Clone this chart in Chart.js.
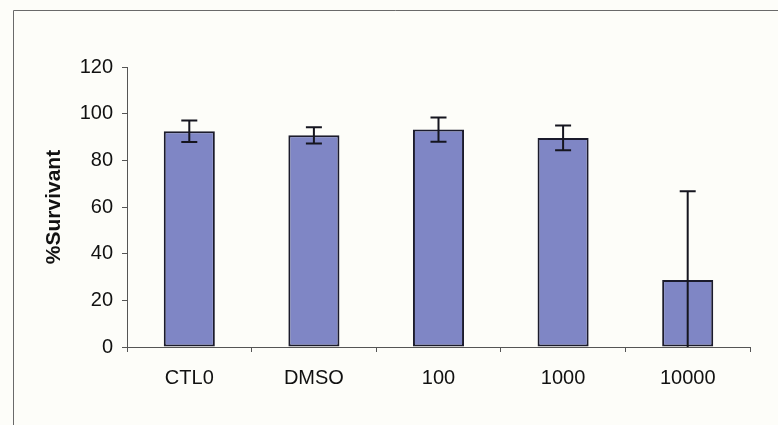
<!DOCTYPE html>
<html>
<head>
<meta charset="utf-8">
<script src="https://cdn.jsdelivr.net/npm/chart.js@4/dist/chart.umd.min.js"></script>
<style>
  html, body { margin: 0; padding: 0; background: #fdfdf9; }
  #wrap { width: 778px; height: 425px; position: relative; }
</style>
</head>
<body>
<div id="wrap"><canvas id="myChart"></canvas></div>
<script>
// data
const categories = ['CTL0', 'DMSO', '100', '1000', '10000'];
const survival = [92.5, 90.7, 93.2, 89.6, 28.7];
const survivalErr = [4.6, 3.5, 5.2, 5.3, 38];
const yTicks = [0, 20, 40, 60, 80, 100, 120];

const FONT = '"Liberation Sans", Arial, sans-serif';

// outer frame like the scanned figure
const framePlugin = {
    id: 'frame',
    beforeDraw: function(chart){
        const ctx = chart.ctx;
        ctx.save();
        ctx.strokeStyle = '#6a6a6a';
        ctx.lineWidth = 1;
        ctx.beginPath();
        ctx.moveTo(13.5, chart.height);
        ctx.lineTo(13.5, 10.5);
        ctx.lineTo(chart.width, 10.5);
        ctx.stroke();
        ctx.restore();
    }
};

// error bars, drawn through the y scale
const errorBarPlugin = {
    id: 'errorBars',
    afterDatasetsDraw: function(chart){
        const ctx = chart.ctx;
        const yScale = chart.scales.y;
        const meta = chart.getDatasetMeta(0);
        ctx.save();
        ctx.strokeStyle = '#15151f';
        ctx.lineWidth = 2;
        meta.data.forEach(function(bar, i){
            const x = bar.x;
            const hi = survival[i] + survivalErr[i];
            const lo = survival[i] - survivalErr[i];
            const yHi = yScale.getPixelForValue(hi);
            const yLo = yScale.getPixelForValue(Math.max(lo, yScale.min));
            ctx.beginPath();
            ctx.moveTo(x, yHi);
            ctx.lineTo(x, yLo);
            ctx.moveTo(x - 8, yHi);
            ctx.lineTo(x + 8, yHi);
            if(lo >= yScale.min){
                ctx.moveTo(x - 8, yLo);
                ctx.lineTo(x + 8, yLo);
            }
            ctx.stroke();
        });
        ctx.restore();
    }
};

const ctx = document.getElementById('myChart');
new Chart(ctx, {
    type: 'bar',
    data: {
        labels: categories,
        datasets: [{
            data: survival,
            backgroundColor: '#7f86c5',
            borderColor: '#1b1b2c',
            borderWidth: 2,
            borderSkipped: false,
            categoryPercentage: 1,
            barPercentage: 0.41
        }]
    },
    options: {
        responsive: true,
        maintainAspectRatio: false,
        animation: false,
        devicePixelRatio: 1,
        layout: {
            padding: {left: 0, top: 67, right: 28, bottom: 0}
        },
        plugins: {
            legend: {display: false},
            tooltip: {enabled: false}
        },
        scales: {
            x: {
                grid: {
                    offset: true,
                    drawOnChartArea: false,
                    tickLength: 5,
                    color: '#555',
                    tickColor: '#555'
                },
                border: {color: '#555', width: 1},
                ticks: {
                    color: '#111',
                    padding: 14,
                    font: {family: FONT, size: 20}
                },
                afterFit: function(scale){
                    scale.height = 78;
                }
            },
            y: {
                min: 0,
                max: 120,
                afterBuildTicks: function(scale){
                    scale.ticks = yTicks.map(function(v){ return {value: v}; });
                },
                grid: {
                    drawOnChartArea: false,
                    tickLength: 5,
                    color: '#555',
                    tickColor: '#555'
                },
                border: {color: '#555', width: 1},
                ticks: {
                    color: '#111',
                    padding: 9,
                    font: {family: FONT, size: 20}
                },
                title: {
                    display: true,
                    text: '%Survivant',
                    color: '#111',
                    padding: {top: 42, bottom: 0},
                    font: {family: FONT, size: 21, weight: 'bold'}
                },
                afterFit: function(scale){
                    scale.width = 127;
                }
            }
        }
    },
    plugins: [framePlugin, errorBarPlugin]
});
</script>
</body>
</html>
